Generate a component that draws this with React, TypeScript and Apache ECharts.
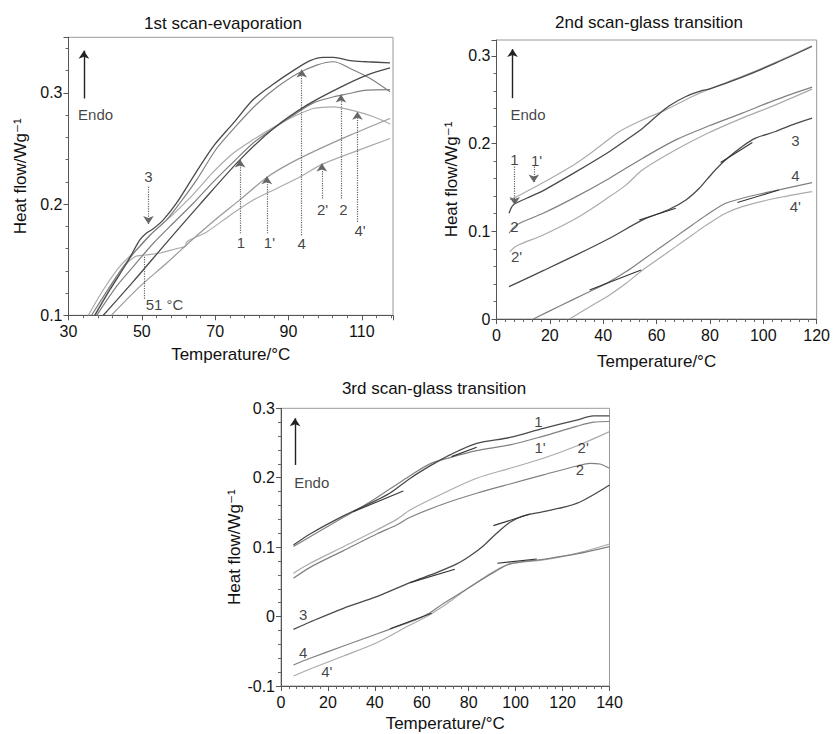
import React, { useEffect, useRef } from "react";
import * as echarts from "echarts";

type Pt = [number, number];

const FONT = '"Liberation Sans", Arial, "DejaVu Sans", sans-serif';
const DARK = "#4a4a4a";
const MID = "#808080";
const LIGHT = "#ababab";

// ---------------- Panel 1: 1st scan-evaporation ----------------
const p1Title = "1st scan-evaporation";
const p1XRange = [30, 118.5];
const p1YRange = [0.1, 0.35];

const p1Curve3: Pt[] = [[37.2,0.100],[41.3,0.123],[45.9,0.147],[49.5,0.168],[51.3,0.174],[53.2,0.178],[55.9,0.186],[59.5,0.201],[64.1,0.225],[69.5,0.252],[75.0,0.273],[80.4,0.294],[85.9,0.308],[91.3,0.320],[95.9,0.329],[99.5,0.332],[102.3,0.332],[106.8,0.329],[111.4,0.328],[117.7,0.327]];
const p1Curve4: Pt[] = [[36.3,0.100],[41.3,0.126],[45.0,0.144],[48.6,0.159],[52.2,0.172],[56.8,0.186],[60.4,0.201],[65.0,0.222],[70.4,0.250],[75.9,0.271],[81.4,0.290],[86.8,0.305],[92.3,0.317],[97.7,0.325],[102.3,0.328],[106.8,0.322],[112.3,0.313],[117.7,0.301]];
const p1Curve1: Pt[] = [[39.5,0.100],[47.7,0.1305],[56.8,0.1656],[65.9,0.200],[76.8,0.240],[85.9,0.268],[95.0,0.289],[104.1,0.305],[111.4,0.316],[117.7,0.3225]];
const p1Curve2: Pt[] = [[37.7,0.100],[43.1,0.126],[47.7,0.144],[53.2,0.165],[58.6,0.183],[64.1,0.201],[69.5,0.220],[75.0,0.238],[80.4,0.255],[85.9,0.268],[91.3,0.280],[96.8,0.291],[102.3,0.2965],[105.9,0.299],[111.4,0.3025],[117.7,0.303]];
const p1Curve4p: Pt[] = [[35.4,0.100],[39.5,0.123],[44.0,0.144],[48.6,0.159],[53.2,0.175],[58.6,0.191],[64.1,0.209],[69.5,0.229],[75.0,0.246],[80.4,0.258],[85.9,0.269],[91.3,0.2785],[96.8,0.286],[102.3,0.2875],[107.7,0.284],[113.2,0.2785],[117.7,0.272]];
const p1Curve1p: Pt[] = [[41.7,0.100],[49.5,0.126],[56.8,0.147],[64.1,0.169],[70.4,0.187],[76.8,0.204],[84.1,0.224],[90.4,0.2366],[97.7,0.2485],[106.8,0.262],[117.7,0.277]];
const p1Curve2p: Pt[] = [[37.1,0.100],[44.4,0.1407],[48.1,0.1527],[50.8,0.1542],[55.0,0.156],[59.5,0.160],[61.9,0.162],[62.2,0.166],[67.7,0.175],[74.1,0.190],[80.4,0.2036],[86.8,0.2141],[93.2,0.2246],[99.1,0.2357],[106.8,0.2456],[117.7,0.259]];

// arrows: [x, yFrom, yTo]
const p1Arrows: [number, number, number][] = [[51.8,0.2156,0.182],[76.8,0.1737,0.240],[84.1,0.1737,0.225],[93.6,0.172,0.321],[99.1,0.205,0.2366],[104.3,0.205,0.2985],[108.8,0.184,0.283]];
const p1Marker: [number, number, number] = [50.6, 0.1527, 0.114];
const p1Endo: [number, number, number] = [34.2, 0.295, 0.338];
const p1Labels: [string, number, number][] = [["3",51.8,0.2246],["1",77.0,0.1656],["1'",84.8,0.1656],["4",93.6,0.1647],["2'",99.3,0.1952],["2",105.0,0.1952],["4'",109.5,0.176],["51 °C",56.2,0.1093],["Endo",37.4,0.2806]];

// ---------------- Panel 2: 2nd scan-glass transition ----------------
const p2Title = "2nd scan-glass transition";
const p2XRange = [0, 120];
const p2YRange = [0, 0.318];

const p2Curve1: Pt[] = [[4.7,0.1205],[6.3,0.130],[11.3,0.1376],[17.5,0.1464],[29.9,0.168],[42.4,0.191],[48.6,0.204],[54.8,0.2175],[59.8,0.2308],[64.8,0.243],[71.0,0.2536],[77.2,0.2605],[79.7,0.262],[92.1,0.2757],[104.6,0.2916],[118.2,0.3106]];
const p2Curve1p: Pt[] = [[5.0,0.136],[8.8,0.1414],[17.5,0.1555],[29.9,0.1776],[38.6,0.1966],[46.1,0.2137],[54.8,0.227],[63.5,0.2384],[73.4,0.2536],[79.7,0.262],[92.1,0.2765],[104.6,0.2925],[118.2,0.3115]];
const p2Curve2: Pt[] = [[4.7,0.0977],[7.5,0.1072],[17.5,0.1205],[29.9,0.1395],[42.4,0.1605],[54.8,0.1833],[67.2,0.2042],[79.7,0.2202],[92.1,0.2346],[104.6,0.2498],[118.3,0.2643]];
const p2Curve2p: Pt[] = [[5.0,0.0768],[7.5,0.0833],[17.5,0.0958],[29.9,0.1148],[42.4,0.1395],[48.6,0.1529],[54.8,0.170],[67.2,0.1928],[79.7,0.2125],[92.1,0.2289],[104.6,0.2441],[118.3,0.262]];
const p2Curve3: Pt[] = [[4.7,0.0369],[17.5,0.0551],[29.9,0.0730],[42.4,0.0920],[54.8,0.1129],[64.8,0.1251],[71.0,0.1357],[76.0,0.1490],[80.9,0.1662],[85.9,0.1814],[92.1,0.1966],[97.1,0.2061],[104.6,0.2137],[110.8,0.2213],[118.3,0.2289]];
const p2Curve4: Pt[] = [[13.8,0],[23.7,0.0148],[33.6,0.0293],[42.4,0.0426],[48.6,0.054],[54.8,0.0673],[61.0,0.0806],[67.2,0.0939],[73.4,0.1072],[79.7,0.1205],[85.9,0.1319],[92.1,0.1376],[98.3,0.1422],[104.6,0.1464],[118.3,0.1555]];
const p2Curve4p: Pt[] = [[27.4,0],[36.1,0.016],[42.4,0.0274],[48.6,0.0407],[54.8,0.0559],[61.0,0.0692],[67.2,0.0825],[73.4,0.0958],[79.7,0.1091],[85.9,0.1205],[92.1,0.1281],[104.6,0.1376],[118.3,0.1452]];
const p2Tangents: Pt[][] = [[[34.9,0.0331],[54.2,0.0559]],[[90.3,0.1327],[105.8,0.1471]],[[84.0,0.1783],[95.9,0.2011]],[[53.5,0.1129],[67.2,0.1262]]];
const p2Arrows: [number, number, number][] = [[6.8,0.1738,0.130],[14.0,0.1738,0.1555]];
const p2Endo: [number, number, number] = [6.0, 0.2517, 0.3076];
const p2Labels: [string, number, number][] = [["1",6.7,0.1814],["1'",15.0,0.181],["2",6.7,0.1053],["2'",7.5,0.0711],["3",112,0.204],["4",112,0.164],["4'",112,0.128],["Endo",11.8,0.2335]];

// ---------------- Panel 3: 3rd scan-glass transition ----------------
const p3Title = "3rd scan-glass transition";
const p3XRange = [0, 140];
const p3YRange = [-0.1, 0.3];

const p3Curve1: Pt[] = [[5.3,0.103],[12.4,0.119],[26.6,0.145],[37.9,0.163],[46.5,0.178],[55.0,0.199],[63.5,0.217],[72.0,0.233],[83.4,0.2496],[97.6,0.258],[111.8,0.271],[126.0,0.283],[133.1,0.289],[140,0.289]];
const p3Curve1p: Pt[] = [[5.3,0.101],[12.4,0.115],[26.6,0.143],[37.9,0.165],[46.5,0.184],[55.0,0.203],[63.5,0.220],[72.0,0.229],[83.4,0.239],[97.6,0.2472],[111.8,0.260],[126.0,0.274],[133.1,0.280],[140,0.281]];
const p3Curve2p: Pt[] = [[5.3,0.0623],[12.4,0.0767],[26.6,0.1007],[40.8,0.1247],[49.3,0.140],[55.0,0.1535],[69.2,0.1776],[83.4,0.1992],[97.6,0.2136],[111.8,0.228],[126.0,0.2457],[140,0.2664]];
const p3Curve2: Pt[] = [[5.3,0.0551],[12.4,0.0709],[26.6,0.095],[40.8,0.119],[49.3,0.1319],[55.0,0.143],[69.2,0.1622],[83.4,0.1776],[97.6,0.191],[111.8,0.204],[126.0,0.2169],[131.7,0.2208],[135.9,0.2198],[140,0.2136]];
const p3Curve3: Pt[] = [[5.3,-0.0184],[12.4,-0.0078],[26.6,0.0119],[40.8,0.0287],[55.0,0.0489],[66.3,0.0633],[74.9,0.0758],[80.5,0.0873],[86.2,0.1017],[91.9,0.1199],[97.6,0.1358],[103.3,0.1449],[111.8,0.1511],[126.0,0.1631],[140,0.1896]];
const p3Curve4: Pt[] = [[5.3,-0.0697],[12.4,-0.0601],[26.6,-0.0423],[40.8,-0.0251],[49.3,-0.0145],[57.8,-0.004],[63.5,0.0056],[69.2,0.019],[76.3,0.0335],[83.4,0.0489],[90.5,0.0633],[97.6,0.0758],[111.8,0.0825],[126,0.0902],[140,0.1007]];
const p3Curve4p: Pt[] = [[5.3,-0.0856],[12.4,-0.0755],[26.6,-0.0568],[40.8,-0.0376],[55.0,-0.0121],[62.1,0],[69.2,0.0152],[76.3,0.0325],[83.4,0.0489],[90.5,0.0647],[97.6,0.0758],[111.8,0.0815],[126,0.0911],[140,0.1046]];
const p3Tangents: Pt[][] = [[[30.8,0.151],[52.1,0.181]],[[72.7,0.2304],[83.4,0.2438]],[[55.0,0.0489],[74.1,0.0681]],[[90.5,0.131],[106.1,0.1478]],[[46.5,-0.0174],[64.2,0.0048]],[[92.2,0.0767],[109.0,0.083]]];
const p3Endo: [number, number, number] = [6.0, 0.2184, 0.2856];
const p3Labels: [string, number, number][] = [["1",109.7,0.2808],["1'",110.4,0.2438],["2'",128.8,0.2438],["2",127.4,0.2112],["3",9.5,0.0037],["4",9.5,-0.052],["4'",19.5,-0.0794],["Endo",13.1,0.1934]];

const xName = "Temperature/°C";
const yName = "Heat flow/Wg⁻¹";

function curve(idx: number, data: Pt[], color: string, width = 1.2) {
  return {
    type: "line", xAxisIndex: idx, yAxisIndex: idx, data, symbol: "none", showSymbol: false,
    smooth: 0.3, silent: true, z: 3, color,
    lineStyle: { color, width },
  };
}

function segs(idx: number, list: Pt[][]) {
  return list.map((d) => ({
    type: "line", xAxisIndex: idx, yAxisIndex: idx, data: d, symbol: "none", showSymbol: false,
    silent: true, z: 4, color: "#333", lineStyle: { color: "#333", width: 1.1 },
  }));
}

function arrowSeries(idx: number, arrows: [number, number, number][], dotted: boolean, head: boolean, color: string) {
  return {
    type: "line", xAxisIndex: idx, yAxisIndex: idx, data: [], silent: true, z: 5, color,
    markLine: {
      silent: true, animation: false,
      symbol: head ? ["none", "arrow"] : ["none", "none"],
      symbolSize: 8,
      label: { show: false },
      emphasis: { disabled: true },
      lineStyle: { color, width: dotted ? 1.2 : 1.4, type: dotted ? "dotted" : "solid" },
      data: arrows.map((a) => [{ coord: [a[0], a[1]] }, { coord: [a[0], a[2]] }]),
    },
  };
}

function labels(idx: number, list: [string, number, number][]) {
  return {
    type: "scatter", xAxisIndex: idx, yAxisIndex: idx, symbolSize: 0, silent: true, z: 6,
    color: "#111",
    itemStyle: { color: "#111" },
    data: list.map((l) => ({ name: l[0], value: [l[1], l[2]] })),
    label: {
      show: true, position: [0, 0], align: "center", verticalAlign: "middle", formatter: "{b}",
      color: "#111", fontSize: 15, fontFamily: FONT, textBorderWidth: 0, textBorderColor: "transparent",
    },
  };
}

function xAxis(idx: number, range: number[], nameGap: number, minorSplit: number) {
  return {
    type: "value", gridIndex: idx, min: range[0], max: range[1], interval: 20,
    name: xName, nameLocation: "middle", nameGap,
    nameTextStyle: { color: "#111", fontSize: 17, fontFamily: FONT },
    axisLine: { show: true, onZero: false, lineStyle: { color: "#555", width: 1 } },
    axisTick: { show: true, length: 5, lineStyle: { color: "#555" } },
    minorTick: { show: true, splitNumber: minorSplit, length: 3, lineStyle: { color: "#666" } },
    splitLine: { show: false },
    axisLabel: { color: "#111", fontSize: 16, fontFamily: FONT, margin: 8, showMaxLabel: range[1] % 20 === 0 },
  };
}

function yAxis(idx: number, range: number[], nameGap: number, showMax: boolean) {
  return {
    type: "value", gridIndex: idx, min: range[0], max: range[1], interval: 0.1,
    name: yName, nameLocation: "middle", nameGap,
    nameTextStyle: { color: "#111", fontSize: 17, fontFamily: FONT },
    axisLine: { show: true, onZero: false, lineStyle: { color: "#555", width: 1 } },
    axisTick: { show: true, length: 5, lineStyle: { color: "#555" } },
    minorTick: { show: true, splitNumber: 5, length: 3, lineStyle: { color: "#666" } },
    splitLine: { show: false },
    axisLabel: { color: "#111", fontSize: 16, fontFamily: FONT, margin: 6, showMaxLabel: showMax },
  };
}

function titleText(text: string, x: number, y: number) {
  return {
    type: "text", x, y, silent: true,
    style: { text, fill: "#111", fontSize: 17, fontFamily: FONT, textAlign: "center", textVerticalAlign: "middle", align: "center", verticalAlign: "middle" },
  };
}

function buildOption() {
  const gridBox = { show: true, borderColor: "#9a9a9a", borderWidth: 1, backgroundColor: "transparent", containLabel: false };
  return {
    animation: false,
    backgroundColor: "#fff",
    grid: [
      { ...gridBox, left: 68.5, top: 37.3, width: 324.5, height: 278 },
      { ...gridBox, left: 496.5, top: 40, width: 321.5, height: 279 },
      { ...gridBox, left: 281, top: 408.3, width: 328.5, height: 277.7 },
    ],
    xAxis: [xAxis(0, p1XRange, 31, 5), xAxis(1, p2XRange, 34, 6), xAxis(2, p3XRange, 29, 6)],
    yAxis: [yAxis(0, p1YRange, 40, false), yAxis(1, p2YRange, 37, false), yAxis(2, p3YRange, 38, true)],
    graphic: [titleText(p1Title, 223, 23), titleText(p2Title, 649, 22), titleText(p3Title, 434, 388)],
    series: [
      curve(0, p1Curve2p, LIGHT), curve(0, p1Curve1p, "#999"), curve(0, p1Curve4p, LIGHT),
      curve(0, p1Curve2, MID), curve(0, p1Curve4, MID), curve(0, p1Curve1, DARK, 1.3), curve(0, p1Curve3, DARK, 1.3),
      arrowSeries(0, p1Arrows, true, true, "#666"),
      arrowSeries(0, [p1Marker], true, false, "#666"),
      arrowSeries(0, [p1Endo], false, true, "#222"),
      labels(0, p1Labels),

      curve(1, p2Curve1p, LIGHT), curve(1, p2Curve1, DARK, 1.3), curve(1, p2Curve2p, LIGHT), curve(1, p2Curve2, MID),
      curve(1, p2Curve3, DARK, 1.3), curve(1, p2Curve4p, LIGHT), curve(1, p2Curve4, MID),
      ...segs(1, p2Tangents),
      arrowSeries(1, p2Arrows, true, true, "#666"),
      arrowSeries(1, [p2Endo], false, true, "#222"),
      labels(1, p2Labels),

      curve(2, p3Curve1p, MID), curve(2, p3Curve1, DARK, 1.3), curve(2, p3Curve2p, LIGHT), curve(2, p3Curve2, MID),
      curve(2, p3Curve3, DARK, 1.3), curve(2, p3Curve4p, LIGHT), curve(2, p3Curve4, MID),
      ...segs(2, p3Tangents),
      arrowSeries(2, [p3Endo], false, true, "#222"),
      labels(2, p3Labels),
    ],
  };
}

export default function App() {
  const ref = useRef<HTMLDivElement>(null);
  useEffect(() => {
    if (!ref.current) return;
    const chart = echarts.init(ref.current, undefined, { renderer: "svg" });
    chart.setOption(buildOption() as any);
    return () => chart.dispose();
  }, []);
  return <div ref={ref} style={{ position: "absolute", left: 0, top: 0, width: 833, height: 734, background: "#fff" }} />;
}
